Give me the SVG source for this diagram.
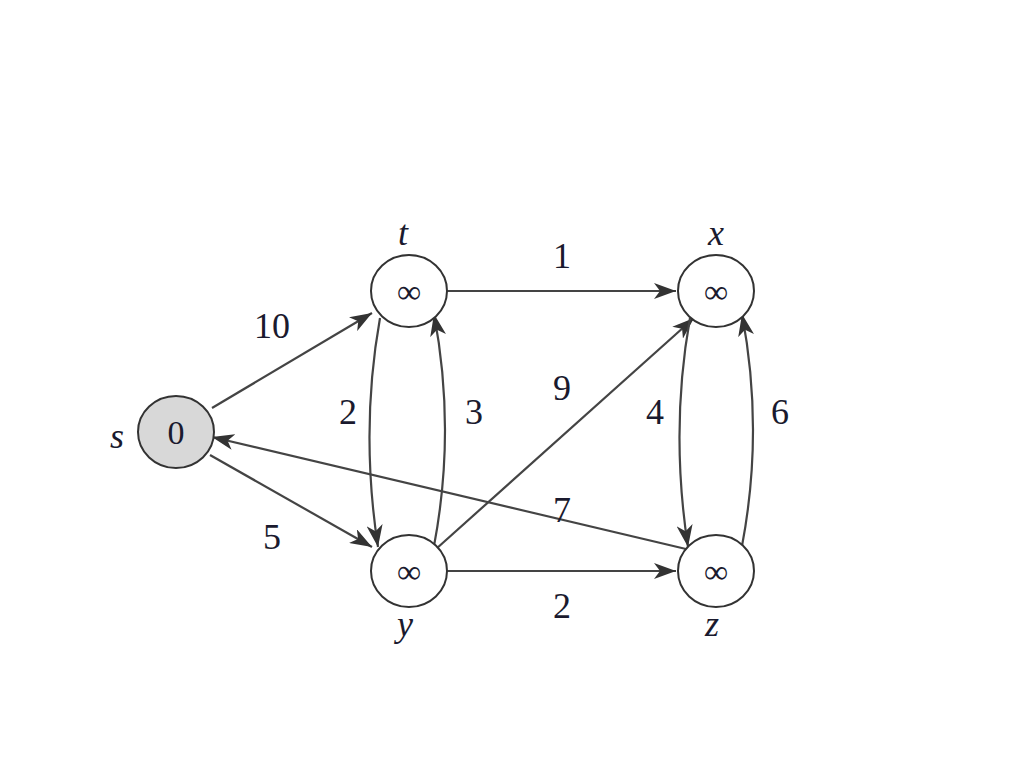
<svg xmlns="http://www.w3.org/2000/svg" width="1024" height="768" viewBox="0 0 1024 768">
<style>
.n{fill:#fff;stroke:#333;stroke-width:2}
.e{fill:none;stroke:#444;stroke-width:2.2;marker-end:url(#a)}
text{font-family:"Liberation Serif","DejaVu Serif",serif;fill:#1a1a2e;text-anchor:middle}
.w{font-size:36px}
.l{font-size:36px;font-style:italic}
.v{font-size:34px}
</style>
<defs><marker id="a" markerWidth="24" markerHeight="16" refX="22" refY="8" orient="auto" markerUnits="userSpaceOnUse"><path d="M0,0 L22,8 L0,16 L6,8 Z" fill="#333"/></marker></defs>
<rect width="1024" height="768" fill="#fff"/>
<g id="edges">
<line class="e" x1="212" y1="408" x2="372" y2="313"/>
<line class="e" x1="210" y1="455" x2="372" y2="547"/>
<line class="e" x1="447" y1="291" x2="676" y2="291"/>
<line class="e" x1="447" y1="571" x2="676" y2="571"/>
<path class="e" d="M380,318 Q360,430 378,547"/>
<path class="e" d="M434,546 Q456,430 434,314"/>
<line class="e" x1="436" y1="549" x2="694" y2="318"/>
<line class="e" x1="686" y1="549" x2="212" y2="437"/>
<path class="e" d="M690,318 Q670,430 688,547"/>
<path class="e" d="M742,546 Q764,430 742,314"/>
<text class="w" x="272" y="338">10</text>
<text class="w" x="272" y="549">5</text>
<text class="w" x="562" y="268">1</text>
<text class="w" x="562" y="618">2</text>
<text class="w" x="348" y="424">2</text>
<text class="w" x="474" y="424">3</text>
<text class="w" x="562" y="400">9</text>
<text class="w" x="562" y="522">7</text>
<text class="w" x="655" y="424">4</text>
<text class="w" x="780" y="424">6</text>
</g>
<g id="s"><ellipse class="n" cx="176" cy="432" rx="38" ry="36" fill="#d8d8d8" style="fill:#d8d8d8"/><text class="v" x="176" y="444">0</text><text class="l" x="117" y="448">s</text></g>
<g id="t"><ellipse class="n" cx="409" cy="291" rx="38" ry="36"/><text class="v" x="409" y="303">∞</text><text class="l" x="403" y="245">t</text></g>
<g id="x"><ellipse class="n" cx="716" cy="291" rx="38" ry="36"/><text class="v" x="716" y="303">∞</text><text class="l" x="716" y="245">x</text></g>
<g id="y"><ellipse class="n" cx="409" cy="571" rx="38" ry="36"/><text class="v" x="409" y="583">∞</text><text class="l" x="405" y="636">y</text></g>
<g id="z"><ellipse class="n" cx="716" cy="571" rx="38" ry="36"/><text class="v" x="716" y="583">∞</text><text class="l" x="712" y="636">z</text></g>
</svg>
